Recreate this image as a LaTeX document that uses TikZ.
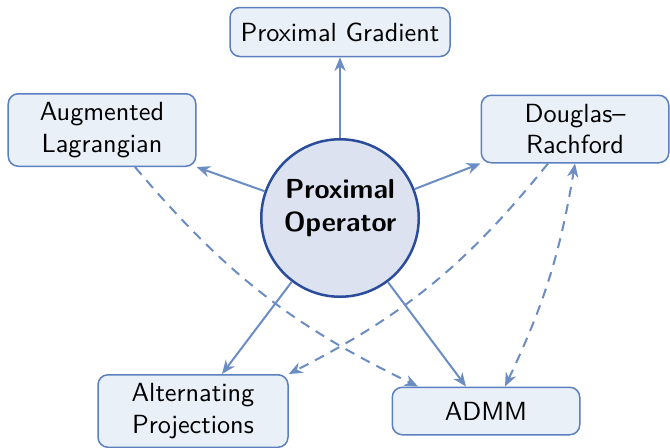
\documentclass[tikz,border=0pt]{standalone}
\usetikzlibrary{arrows.meta}
\definecolor{linkblue}{HTML}{6C8CC4}
\definecolor{boxline}{HTML}{5B7FBF}
\definecolor{boxfill}{HTML}{EAF0F8}
\definecolor{corefill}{HTML}{DCE2EF}
\definecolor{coreline}{HTML}{2A4C9A}
\tikzset{
  method/.style={draw=boxline, line width=0.6pt, fill=boxfill, rounded corners=4pt,
    align=center, inner sep=2pt, minimum width=75pt, minimum height=28pt},
  core/.style={circle, draw=coreline, line width=1pt, fill=corefill, align=center,
    minimum size=63pt, inner sep=0pt, font=\fontsize{11}{13.2}\selectfont\sffamily\bfseries},
  link/.style={->, draw=linkblue, line width=0.8pt},
  hint/.style={link, dash pattern=on 4pt off 3pt}
}
\begin{document}
\begin{tikzpicture}[x=0.4pt, y=-0.4pt, >={Stealth[length=5.5pt,width=4.5pt]}, font=\fontsize{10.5}{12.6}\selectfont\sffamily, line join=round]
	\useasboundingbox (0,0) rectangle (670,447);
	% centre
	\node[core] (prox) at (340,218) {\raisebox{4pt}[\height][\depth]{\begin{tabular}{@{}c@{}}Proximal\\Operator\end{tabular}}};
	% methods
	\node[method, minimum width=88pt, minimum height=19.6pt] (pg) at (340,32) {Proximal Gradient};
	\node[method, minimum height=29pt] (al) at (102,130) {Augmented\\Lagrangian};
	\node[method, minimum height=27pt] (dr) at (575,129) {Douglas--\\Rachford};
	\node[method, minimum width=76pt, minimum height=29pt] (ap) at (193,411) {Alternating\\Projections};
	\node[method, minimum height=19pt] (admm) at (486,411) {ADMM};
	% solid links
	\draw[link] (prox) -- (pg);
	\draw[link] (prox) -- (al.south east);
	\draw[link] (prox) -- (dr.south west);
	\draw[link] (prox) -- (ap.north -| 222,0);
	\draw[link] (prox) -- (admm.north -| 466,0);
	% dashed links
	\draw[hint] (al.south -| 135,0) to[bend right=12] (admm.north -| 418,0);
	\draw[hint] (dr.south -| 548,0) to[bend left=12] (ap.north east);
	\draw[hint, <->] (admm.north -| 505,0) to[bend right=8] (dr.south -| 575,0);
\end{tikzpicture}
\end{document}
